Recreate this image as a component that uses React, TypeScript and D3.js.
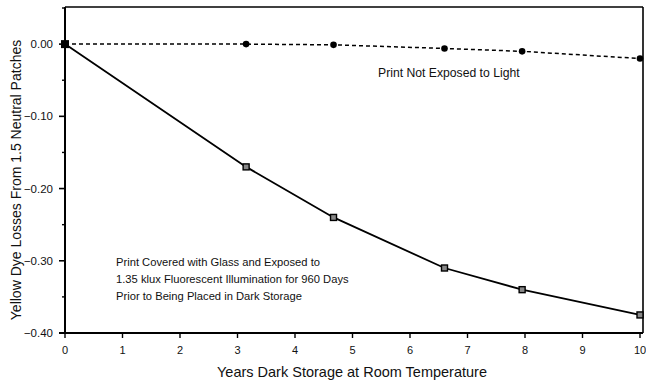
import React from "react";
import * as d3 from "d3";

// Years of dark storage at room temperature
const coveredYears = [0, 3.15, 4.67, 6.6, 7.95, 10];
const coveredLoss = [0, -0.17, -0.24, -0.31, -0.34, -0.375];
const unexposedYears = [0, 3.15, 4.67, 6.6, 7.95, 10];
const unexposedLoss = [0, 0, -0.001, -0.006, -0.01, -0.02];
const xTicks = [0, 1, 2, 3, 4, 5, 6, 7, 8, 9, 10];
const yMajorTicks = [0, -0.1, -0.2, -0.3, -0.4];
const yMinorTicks = [0.05, -0.05, -0.15, -0.25, -0.35];
const coveredNote = [
  "Print Covered with Glass and Exposed to",
  "1.35 klux Fluorescent Illumination for 960 Days",
  "Prior to Being Placed in Dark Storage",
];
const unexposedNote = "Print Not Exposed to Light";

const W = 646;
const H = 383;
const left = 65;
const right = 641;
const top = 8;
const bottom = 333;
const font = "Liberation Sans, Arial, Helvetica, sans-serif";

export default function App() {
  const x = d3.scaleLinear().domain([0, 10]).range([left, right - 1]);
  const y = d3.scaleLinear().domain([-0.4, 0.05]).range([bottom, top]);

  const line = d3
    .line<[number, number]>()
    .x((d) => x(d[0]))
    .y((d) => y(d[1]));

  const covered: [number, number][] = coveredYears.map((v, i) => [v, coveredLoss[i]]);
  const unexposed: [number, number][] = unexposedYears.map((v, i) => [v, unexposedLoss[i]]);

  return (
    <svg
      width={W}
      height={H}
      style={{ position: "absolute", left: 0, top: 0, background: "#fff" }}
      fontFamily={font}
    >
      {/* frame */}
      <line x1={left} x2={right + 2} y1={top - 1} y2={top - 1} stroke="#000" strokeWidth={1.6} />
      <line x1={right + 2} x2={right + 2} y1={top - 1} y2={bottom} stroke="#000" strokeWidth={1.6} />
      <line x1={left} x2={left} y1={top - 1} y2={bottom + 1} stroke="#000" strokeWidth={2} />
      <line x1={left - 6} x2={right + 2} y1={bottom} y2={bottom} stroke="#000" strokeWidth={2.2} />

      {/* y ticks */}
      {yMajorTicks.map((t) => (
        <g key={"ym" + t}>
          <line x1={left - 6} x2={left} y1={y(t)} y2={y(t)} stroke="#000" strokeWidth={1.6} />
          <text x={53} y={y(t)} dy="0.35em" textAnchor="end" fontSize={11.5} fill="#111">
            {t === 0 ? "0.00" : d3.format(".2f")(t)}
          </text>
        </g>
      ))}
      {yMinorTicks.map((t) => (
        <line key={"yn" + t} x1={left - 3} x2={left} y1={y(t)} y2={y(t)} stroke="#000" strokeWidth={1.4} />
      ))}

      {/* x ticks */}
      {xTicks.map((t) => (
        <g key={"x" + t}>
          <line x1={x(t)} x2={x(t)} y1={bottom} y2={bottom + 5} stroke="#000" strokeWidth={1.4} />
          <text x={x(t)} y={bottom + 21} textAnchor="middle" fontSize={11} fill="#111">
            {t}
          </text>
        </g>
      ))}

      {/* axis titles */}
      <text x={352} y={377} textAnchor="middle" fontSize={14.5} fill="#111">
        Years Dark Storage at Room Temperature
      </text>
      <text
        transform={`translate(21, 180) rotate(-90)`}
        textAnchor="middle"
        fontSize={14}
        fill="#111"
      >
        Yellow Dye Losses From 1.5 Neutral Patches
      </text>

      {/* series lines */}
      <path d={line(unexposed) ?? ""} fill="none" stroke="#000" strokeWidth={1.5} strokeDasharray="4,3" />
      <path d={line(covered) ?? ""} fill="none" stroke="#000" strokeWidth={1.8} />

      {/* markers: not exposed */}
      {unexposed.map((d, i) =>
        i === 0 ? null : (
          <circle key={"u" + i} cx={x(d[0])} cy={y(d[1])} r={3.3} fill="#000" />
        )
      )}
      {/* markers: covered */}
      {covered.map((d, i) =>
        i === 0 ? (
          <rect key={"c" + i} x={x(d[0]) - 4} y={y(d[1]) - 4} width={8} height={8} fill="#000" />
        ) : (
          <rect
            key={"c" + i}
            x={x(d[0]) - 3}
            y={y(d[1]) - 3}
            width={6}
            height={6}
            fill="#888"
            stroke="#000"
            strokeWidth={1.4}
          />
        )
      )}

      {/* annotations */}
      <text x={378} y={y(-0.04)} dy="0.35em" fontSize={12.2} fill="#111">
        {unexposedNote}
      </text>
      {coveredNote.map((s, i) => (
        <text key={i} x={116} y={266 + i * 17} fontSize={11.2} fill="#111">
          {s}
        </text>
      ))}
    </svg>
  );
}
